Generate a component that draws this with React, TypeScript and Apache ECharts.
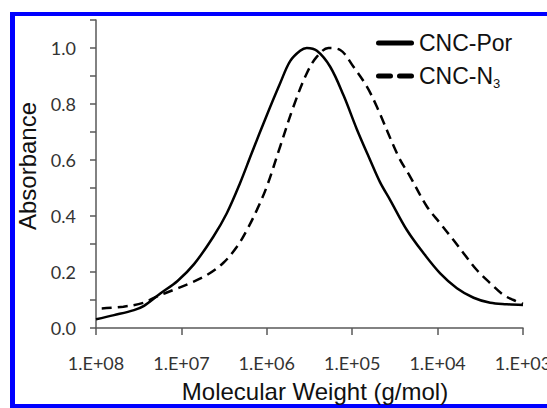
import React, { useEffect, useRef } from "react";
import * as echarts from "echarts";

const seriesNames = ["CNC-Por", "CNC-N3"];

const porMW = [1.0e8, 6.15e7, 3.59e7, 2.74e7, 1.75e7, 1.11e7, 7.11e6, 4.23e6, 2.94e6, 2.06e6, 1.5e6, 1.0e6, 6.98e5, 5.33e5, 4.07e5, 3.4e5, 2.59e5, 1.81e5, 1.26e5, 8.83e4, 6.17e4, 4.71e4, 3.59e4, 2.29e4, 1.46e4, 9.33e3, 5.94e3, 3.79e3, 2.42e3, 1.54e3, 1.0e3];
const porAbs = [0.031, 0.046, 0.064, 0.079, 0.124, 0.168, 0.228, 0.326, 0.41, 0.517, 0.625, 0.76, 0.874, 0.953, 0.99, 1.0, 0.99, 0.933, 0.83, 0.71, 0.6, 0.52, 0.457, 0.35, 0.267, 0.195, 0.142, 0.108, 0.09, 0.085, 0.082];

const n3MW = [8.57e7, 4.79e7, 2.79e7, 1.95e7, 1.24e7, 7.93e6, 5.05e6, 3.22e6, 2.24e6, 1.71e6, 1.31e6, 1.0e6, 6.98e5, 4.88e5, 3.4e5, 2.59e5, 1.9e5, 1.38e5, 9.66e4, 6.73e4, 5.14e4, 2.87e4, 2.09e4, 1.33e4, 9.33e3, 6.52e3, 4.97e3, 3.47e3, 2.42e3, 1.69e3, 1.29e3, 1.0e3];
const n3Abs = [0.07, 0.076, 0.09, 0.112, 0.136, 0.16, 0.189, 0.233, 0.29, 0.35, 0.421, 0.505, 0.648, 0.79, 0.91, 0.969, 1.0, 0.993, 0.933, 0.862, 0.79, 0.612, 0.54, 0.433, 0.374, 0.314, 0.267, 0.207, 0.16, 0.118, 0.1, 0.086];

const xMin = 1e3;
const xMax = 1e8;
const yMin = 0;
const yMax = 1.1;
const yStep = 0.1;

const xTitle = "Molecular Weight (g/mol)";
const yTitle = "Absorbance";

const TITLE_FONT = "'Liberation Sans', Arial, sans-serif";
const TICK_FONT = "Lato, 'Open Sans', sans-serif";
const AXIS_COLOR = "#595959";
const TEXT_COLOR = "#111111";

export default function App() {
  const ref = useRef<HTMLDivElement>(null);

  useEffect(() => {
    if (!ref.current) return;
    const chart = echarts.init(ref.current, null, { renderer: "svg" });
    const porData = porMW.map((m, i) => [m, porAbs[i]]);
    const n3Data = n3MW.map((m, i) => [m, n3Abs[i]]);

    chart.setOption({
      animation: false,
      backgroundColor: "#ffffff",
      grid: {
        left: 96,
        right: 24,
        top: 20,
        bottom: 80,
        containLabel: false,
        outerBoundsMode: "none",
      },
      graphic: [
        { type: "rect", left: 10, top: 12, shape: { width: 5, height: 396 }, style: { fill: "#0000ff" }, silent: true },
        { type: "rect", left: 10, top: 12, shape: { width: 537, height: 4 }, style: { fill: "#0000ff" }, silent: true },
        { type: "rect", left: 10, top: 404, shape: { width: 537, height: 4 }, style: { fill: "#0000ff" }, silent: true },
      ],
      legend: {
        orient: "vertical",
        left: 371,
        top: 24,
        itemWidth: 38,
        itemHeight: 5,
        itemGap: 5,
        selectedMode: false,
        symbolKeepAspect: false,
        formatter: (name: string) => (name === "CNC-N3" ? "{n|CNC-N}{sub|3}" : "{n|" + name + "}"),
        textStyle: {
          fontFamily: TITLE_FONT,
          fontSize: 23,
          color: TEXT_COLOR,
          lineHeight: 28,
          rich: {
            n: { fontFamily: TITLE_FONT, fontSize: 23, color: TEXT_COLOR, lineHeight: 28, verticalAlign: "middle" },
            sub: { fontFamily: TITLE_FONT, fontSize: 13, color: TEXT_COLOR, lineHeight: 13, padding: [14, 0, 0, 0], verticalAlign: "middle" },
          },
        },
        data: [
          {
            name: seriesNames[0],
            icon: "path://M2.5 0H35.5A2.5 2.5 0 0 1 35.5 5H2.5A2.5 2.5 0 0 1 2.5 0Z",
            itemStyle: { color: "#000" },
          },
          {
            name: seriesNames[1],
            icon: "path://M2.5 0H14.5A2.5 2.5 0 0 1 14.5 5H2.5A2.5 2.5 0 0 1 2.5 0Z M23.5 0H35.5A2.5 2.5 0 0 1 35.5 5H23.5A2.5 2.5 0 0 1 23.5 0Z",
            itemStyle: { color: "#000" },
          },
        ],
      },
      xAxis: {
        type: "log",
        logBase: 10,
        min: xMin,
        max: xMax,
        inverse: true,
        name: xTitle,
        nameLocation: "middle",
        nameGap: 51,
        nameTextStyle: { fontFamily: TITLE_FONT, fontSize: 24, color: TEXT_COLOR, padding: [0, 0, 0, 11] },
        axisLine: { show: true, lineStyle: { color: AXIS_COLOR, width: 1.5 } },
        axisTick: { show: true, inside: false, length: 7, lineStyle: { color: AXIS_COLOR, width: 1.5 } },
        splitLine: { show: false },
        minorTick: { show: false },
        axisLabel: {
          margin: 26,
          fontFamily: TICK_FONT,
          fontSize: 18,
          color: "#333333",
          showMinLabel: true,
          showMaxLabel: true,
          formatter: (v: number) => {
            const e = Math.round(Math.log10(v));
            return "1.E+" + String(e).padStart(2, "0");
          },
        },
      },
      yAxis: {
        type: "value",
        min: yMin,
        max: yMax,
        interval: yStep,
        name: yTitle,
        nameLocation: "middle",
        nameGap: 54,
        nameTextStyle: { fontFamily: TITLE_FONT, fontSize: 24, color: TEXT_COLOR, padding: [0, 0, 0, 16] },
        axisLine: { show: true, lineStyle: { color: AXIS_COLOR, width: 1.5 } },
        axisTick: { show: true, inside: false, length: 6, lineStyle: { color: AXIS_COLOR, width: 1.5 } },
        splitLine: { show: false },
        axisLabel: {
          margin: 20,
          fontFamily: TICK_FONT,
          fontSize: 18,
          color: "#333333",
          formatter: (v: number) => {
            const t = Math.round(v * 10);
            return t % 2 === 0 ? (t / 10).toFixed(1) : "";
          },
        },
      },
      series: [
        {
          name: seriesNames[0],
          type: "line",
          data: porData,
          symbol: "none",
          showSymbol: false,
          smooth: 0.35,
          lineStyle: { color: "#000", width: 2.5, type: "solid" },
          itemStyle: { color: "#000" },
        },
        {
          name: seriesNames[1],
          type: "line",
          data: n3Data,
          symbol: "none",
          showSymbol: false,
          smooth: 0.35,
          lineStyle: { color: "#000", width: 2.5, type: [10, 6] },
          itemStyle: { color: "#000" },
        },
      ],
    });

    return () => chart.dispose();
  }, []);

  return (
    <div
      ref={ref}
      style={{ position: "fixed", left: 0, top: 0, width: 547, height: 408, background: "#fff" }}
    />
  );
}
